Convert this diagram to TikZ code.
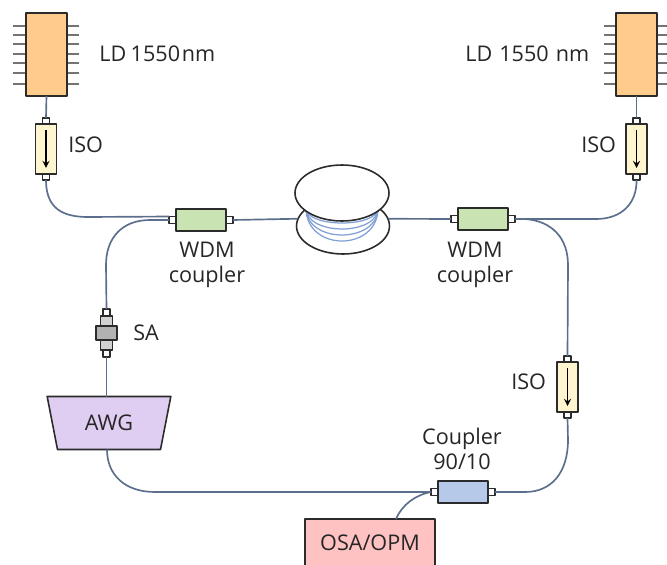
\documentclass[tikz,border=0pt]{standalone}
\usepackage{fontspec}
\setmainfont{Open Sans}
\usetikzlibrary{positioning,shapes.geometric}
\definecolor{wirecol}{HTML}{5B6E8C}
\definecolor{coilcol}{HTML}{7F9FD6}
\definecolor{edgecol}{HTML}{2B2B2B}
\definecolor{ldcol}{HTML}{FFCC8C}
\definecolor{isocol}{HTML}{FFF5CF}
\definecolor{wdmcol}{HTML}{C9E3B3}
\definecolor{cplcol}{HTML}{B6C9E8}
\definecolor{awgcol}{HTML}{DFCDF2}
\definecolor{osacol}{HTML}{FFC2C2}
\tikzset{
	box/.style={draw=edgecol,line width=.9pt,inner sep=0pt,outer sep=0pt},
	ldbox/.style={box,fill=ldcol,minimum width=.82cm,minimum height=1.66cm},
	isobox/.style={box,fill=isocol,minimum width=.42cm,minimum height=1cm},
	wdmbox/.style={box,fill=wdmcol,minimum width=1cm,minimum height=.44cm},
	port/.style={box,line width=.7pt,fill=white,minimum width=.14cm,minimum height=.14cm},
	spool/.style={draw=edgecol,line width=.9pt,fill=white,ellipse,inner sep=0pt,minimum height=1.12cm},
	wire/.style={draw=wirecol,line width=.95pt},
	pin/.style={draw=gray!90!black,line width=.8pt},
	txt/.style={text=black!85,font=\fontsize{12.3}{14.2}\selectfont,align=center,inner sep=0pt}
}
\begin{document}
\begin{tikzpicture}[x=.02cm,y=-.02cm,line join=round,>=stealth]
	\useasboundingbox (0,0) rectangle (667,565);
	% laser pins
	\foreach \y in {26,35,44,54,63,73,84}{
		\draw[pin] (13,\y)--(79,\y);
		\draw[pin] (604,\y)--(667,\y);
	}
	\node[ldbox] (lda) at (46.5,54.5) {};
	\node[ldbox] (ldb) at (636.5,54.5) {};
	\node[txt,right] (ldatxt) at (99,54) {LD\kern2.5pt 1550\kern1pt nm};
	\node[txt,right] (ldbtxt) at (465,54) {LD\kern4pt 1550\kern4pt nm};
	% isolators
	\node[isobox] (isoa) at (46,149) {};
	\node[isobox] (isob) at (636.5,149) {};
	\node[isobox] (isoc) at (567.5,387) {};
	\foreach \i in {isoa,isob,isoc}{
		\node[port,minimum height=.12cm,above=0pt of \i] (\i-in) {};
		\node[port,minimum height=.12cm,below=0pt of \i] (\i-out) {};
		\draw[->,line width=.8pt] ([yshift=-.12cm]\i.north)--([yshift=.12cm]\i.south);
	}
	\node[txt,right] (isoatxt) at (68,145) {ISO};
	\node[txt,right] (isobtxt) at (581,145) {ISO};
	\node[txt,right] (isoctxt) at (511,382) {ISO};
	% couplers
	\node[wdmbox] (wdma) at (201,220) {};
	\node[wdmbox] (wdmb) at (483,219) {};
	\node[wdmbox,fill=cplcol] (cpl) at (463,492) {};
	\foreach \c in {wdma,wdmb,cpl}{
		\node[port,left=0pt of \c] (\c-in) {};
		\node[port,right=0pt of \c] (\c-out) {};
	}
	\node[txt] (wdmatxt) at (207,265) {WDM\\coupler};
	\node[txt] (wdmbtxt) at (475,265) {WDM\\coupler};
	\node[txt] (cpltxt) at (462,449) {Coupler\\90/10};
	% fibre spool
	\node[spool,minimum width=1.86cm] (coilb) at (343,226) {};
	\foreach \k in {223,229,235,241}
		\draw[coilcol,line width=.7pt] (306,208) .. controls (306,{208+(\k-208)*4/3}) and (378,{208+(\k-208)*4/3}) .. (378,208);
	\node[spool,minimum width=1.88cm] (coilt) at (342,193) {};
	% saturable absorber
	\node[box,fill=gray!60,minimum width=.42cm,minimum height=.28cm] (sa) at (106.5,333) {};
	\node[box,fill=gray!35,minimum width=.24cm,minimum height=.2cm,above=0pt of sa] (saup) {};
	\node[box,fill=gray!35,minimum width=.24cm,minimum height=.2cm,below=0pt of sa] (salo) {};
	\node[port,above=0pt of saup] (sain) {};
	\node[port,below=0pt of salo] (saout) {};
	\node[txt,right] (satxt) at (133,333) {SA};
	% boxes
	\node[box,trapezium,shape border rotate=180,trapezium angle=73,trapezium stretches=true,minimum width=2.48cm,minimum height=1.06cm,fill=awgcol,txt,draw=edgecol] (awg) at (109,423) {AWG};
	\node[box,fill=osacol,minimum width=2.6cm,minimum height=.96cm,txt,draw=edgecol] (osa) at (370,543) {OSA/OPM};
	\coordinate (osatap) at (396,519);
	% fibres
	\draw[wire] (lda.south)--(isoa-in.north);
	\draw[wire] (ldb.south)--(isob-in.north);
	\draw[wire] (isoa-out.south) .. controls (46,208) and (62,217) .. (88,217)--(wdma-in.north west);
	\draw[wire] (wdma-in.west)--(150,220) .. controls (122,220) and (106,238) .. (106,265)--(sain.north);
	\draw[wire] (wdma-out.east)--(coilb.171);
	\draw[wire] (coilb.9)--(wdmb-in.west);
	\draw[wire] (wdmb-out.east)--(596,219) .. controls (622,219) and (637,203) .. (isob-out.south);
	\draw[wire] (wdmb-out.east)--(525,219) .. controls (552,221) and (568,238) .. (568,265)--(isoc-in.north);
	\draw[wire] (isoc-out.south)--(568,440) .. controls (568,472) and (552,492) .. (525,492)--(cpl-out.east);
	\draw[wire] (saout.south)--(saout.south |- awg.north);
	\draw[wire] ([xshift=-2*.02cm]awg.south) .. controls (107,475) and (125,492) .. (155,492)--(cpl-in.west);
	\draw[wire] (osatap) .. controls (402,505) and (415,495) .. (cpl-in.west);
\end{tikzpicture}
\end{document}
